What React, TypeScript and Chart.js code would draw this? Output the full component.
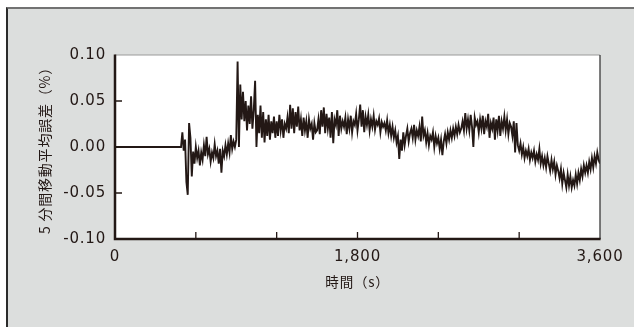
import React, { useEffect, useRef } from "react";
import { Chart, registerables } from "chart.js";

Chart.register(...registerables);

// ---- data ----
const X_TITLE = "時間（s）";
const Y_TITLE = "5 分間移動平均誤差（%）";
const X_LABELED_TICKS = [0, 1800, 3600];
const X_MINOR_TICKS = [600, 1200, 1800, 2400, 3000];
const Y_MINOR_TICKS = [0.05, 0, -0.05];
const X_MIN = 0;
const X_MAX = 3600;
const Y_MIN = -0.1;
const Y_MAX = 0.1;

// flat part before measurements start
const LEAD_IN_TIMES = [0];
const LEAD_IN_VALUES = [0];

// samples every 10 s starting at 490 s
const SAMPLE_START_S = 490;
const SAMPLE_STEP_S = 10;
const ERROR_VALUES = [
  0.000, 0.016, -0.004, 0.008, -0.038, -0.052, 0.026, 0.010, -0.032, -0.005,
  -0.018, 0.000, -0.012, -0.004, -0.020, -0.006, -0.014, 0.002, -0.010, 0.011,
  -0.008, -0.002, -0.016, -0.006, -0.012, 0.003, -0.010, -0.004, -0.018, -0.002,
  -0.028, -0.004, -0.010, 0.002, -0.008, 0.004, -0.006, 0.013, -0.002, 0.006,
  0.000, 0.008, 0.093, 0.000, 0.068, 0.030, 0.060, 0.028, 0.050, 0.018,
  0.045, 0.025, 0.055, 0.020, 0.040, 0.072, 0.000, 0.035, 0.015, 0.045,
  0.010, 0.038, 0.005, 0.030, 0.012, 0.035, 0.008, 0.028, 0.015, 0.033,
  0.010, 0.028, 0.012, 0.035, 0.018, 0.030, 0.010, 0.025, 0.020, 0.032,
  0.015, 0.046, 0.020, 0.042, 0.015, 0.038, 0.022, 0.044, 0.018, 0.030,
  0.012, 0.032, 0.018, 0.028, 0.010, 0.030, 0.020, 0.025, 0.008, 0.026,
  0.016, 0.018, 0.030, 0.014, 0.040, 0.022, 0.043, 0.015, 0.036, 0.020,
  0.032, 0.010, 0.038, 0.004, 0.030, 0.024, 0.040, 0.012, 0.034, 0.020,
  0.028, 0.022, 0.032, 0.014, 0.030, 0.020, 0.034, 0.016, 0.028, 0.024,
  0.036, 0.018, 0.030, 0.046, 0.022, 0.040, 0.016, 0.033, 0.024, 0.035,
  0.018, 0.030, 0.022, 0.034, 0.019, 0.028, 0.024, 0.031, 0.016, 0.027,
  0.022, 0.026, 0.018, 0.029, 0.015, 0.024, 0.012, 0.022, 0.010, 0.018,
  0.005, 0.012, -0.013, 0.008, -0.004, 0.016, 0.002, 0.012, 0.020, 0.006,
  0.015, 0.020, 0.010, 0.024, 0.008, 0.018, 0.012, 0.022, 0.006, 0.033,
  0.012, 0.018, 0.005, 0.015, 0.002, 0.012, 0.008, 0.016, 0.000, 0.012,
  0.004, 0.010, -0.002, 0.008, -0.009, 0.006, 0.014, 0.004, 0.016, 0.008,
  0.018, 0.010, 0.020, 0.012, 0.022, 0.014, 0.024, 0.016, 0.020, 0.028,
  0.018, 0.037, 0.020, 0.030, 0.018, 0.035, 0.022, 0.000, 0.032, 0.024,
  0.028, 0.016, 0.030, 0.020, 0.034, 0.014, 0.028, 0.022, 0.036, 0.010,
  0.026, 0.020, 0.032, 0.008, 0.030, 0.018, 0.034, 0.012, 0.028, 0.020,
  0.033, 0.018, 0.030, 0.014, 0.026, 0.022, 0.012, 0.028, -0.006, 0.026,
  0.002, -0.004, 0.004, -0.008, 0.000, -0.012, -0.004, -0.010, -0.002, -0.014,
  -0.006, -0.012, -0.004, -0.016, -0.008, -0.014, -0.002, -0.018, -0.010, -0.020,
  -0.012, -0.022, -0.010, -0.018, -0.026, -0.014, -0.024, -0.016, -0.030, -0.020,
  -0.026, -0.034, -0.024, -0.040, -0.028, -0.036, -0.044, -0.030, -0.042, -0.032,
  -0.044, -0.036, -0.042, -0.030, -0.040, -0.028, -0.036, -0.024, -0.032, -0.020,
  -0.028, -0.020, -0.028, -0.016, -0.024, -0.012, -0.022, -0.010, -0.018, -0.006,
  -0.014, -0.018,
];

const INK = "#231815";
const TICK_FONT = { family: "'DejaVu Sans', sans-serif", size: 15 };
const TITLE_FONT = { family: "'Noto Sans CJK JP', sans-serif", size: 13.5 };

const framePlugin = {
  id: "framePlugin",
  beforeDraw(chart: any) {
    const { ctx, chartArea } = chart;
    ctx.save();
    ctx.fillStyle = "#ffffff";
    ctx.fillRect(chartArea.left, chartArea.top, chartArea.right - chartArea.left, chartArea.bottom - chartArea.top);
    ctx.restore();
    (ctx as any).letterSpacing = "0.8px";
  },
  afterDraw(chart: any) {
    const { ctx, chartArea, scales } = chart;
    const { left, right, top, bottom } = chartArea;
    ctx.save();
    (ctx as any).letterSpacing = "0px";
    // top border
    ctx.strokeStyle = "#9a9a9a";
    ctx.lineWidth = 1.2;
    ctx.beginPath();
    ctx.moveTo(left, top);
    ctx.lineTo(right, top);
    ctx.stroke();
    // right border
    ctx.strokeStyle = "#3a3a3a";
    ctx.lineWidth = 1.3;
    ctx.beginPath();
    ctx.moveTo(right, top);
    ctx.lineTo(right, bottom);
    ctx.stroke();
    // left + bottom axes
    ctx.strokeStyle = INK;
    ctx.lineWidth = 2.5;
    ctx.beginPath();
    ctx.moveTo(left, top - 0.6);
    ctx.lineTo(left, bottom + 1.25);
    ctx.moveTo(left - 1.25, bottom);
    ctx.lineTo(right + 0.6, bottom);
    ctx.stroke();
    // inner ticks
    ctx.lineWidth = 1.3;
    ctx.beginPath();
    for (const v of Y_MINOR_TICKS) {
      const py = scales.y.getPixelForValue(v);
      ctx.moveTo(left, py);
      ctx.lineTo(left + 7, py);
    }
    for (const t of X_MINOR_TICKS) {
      const px = scales.x.getPixelForValue(t);
      ctx.moveTo(px, bottom);
      ctx.lineTo(px, bottom - 7);
    }
    ctx.stroke();
    ctx.restore();
  },
};

export default function App() {
  const canvasRef = useRef<HTMLCanvasElement | null>(null);

  useEffect(() => {
    document.body.style.margin = "0";
    const canvas = canvasRef.current;
    if (!canvas) return;

    const points = [
      ...LEAD_IN_TIMES.map((t, i) => ({ x: t, y: LEAD_IN_VALUES[i] })),
      ...ERROR_VALUES.map((v, i) => ({ x: SAMPLE_START_S + i * SAMPLE_STEP_S, y: v })),
    ];

    const chart = new Chart(canvas, {
      type: "line",
      data: {
        datasets: [
          {
            data: points,
            borderColor: INK,
            borderWidth: 1.9,
            pointRadius: 0,
            tension: 0,
            fill: false,
          },
        ],
      },
      options: {
        animation: false,
        responsive: false,
        maintainAspectRatio: false,
        devicePixelRatio: 1,
        layout: { padding: { left: 0, top: 55, right: 34, bottom: 0 } },
        plugins: { legend: { display: false }, tooltip: { enabled: false } },
        scales: {
          x: {
            type: "linear",
            min: X_MIN,
            max: X_MAX,
            afterBuildTicks: (scale: any) => {
              scale.ticks = X_LABELED_TICKS.map((v) => ({ value: v }));
            },
            afterFit: (scale: any) => {
              scale.height = 88;
            },
            grid: { display: false, drawTicks: false },
            border: { display: false },
            ticks: {
              font: TICK_FONT,
              color: INK,
              padding: 9,
              maxRotation: 0,
              autoSkip: false,
              callback: (v: any) => Number(v).toLocaleString("en-US"),
            },
            title: {
              display: true,
              text: X_TITLE,
              font: TITLE_FONT,
              color: INK,
              padding: { top: 0, bottom: 37 },
            },
          },
          y: {
            type: "linear",
            min: Y_MIN,
            max: Y_MAX,
            afterFit: (scale: any) => {
              scale.width = 115;
            },
            grid: { display: false, drawTicks: false },
            border: { display: false },
            ticks: {
              stepSize: 0.05,
              font: TICK_FONT,
              color: INK,
              padding: 9,
              callback: (v: any) => Number(v).toFixed(2),
            },
            title: {
              display: true,
              text: Y_TITLE,
              font: { family: "'Noto Sans CJK JP', sans-serif", size: 14 },
              color: INK,
              padding: { top: 36, bottom: 0 },
            },
          },
        },
      },
      plugins: [framePlugin],
    });

    return () => chart.destroy();
  }, []);

  return (
    <div style={{ position: "fixed", left: 0, top: 0, width: 634, height: 327, background: "#ffffff", overflow: "hidden" }}>
      <div
        style={{
          position: "absolute",
          left: 6,
          top: 7,
          width: 640,
          height: 340,
          background: "#dcdedd",
          borderTop: "2px solid #727272",
          borderLeft: "2px solid #2b2b2b",
        }}
      />
      <canvas ref={canvasRef} width={634} height={327} style={{ position: "absolute", left: 0, top: 0, width: 634, height: 327 }} />
    </div>
  );
}
